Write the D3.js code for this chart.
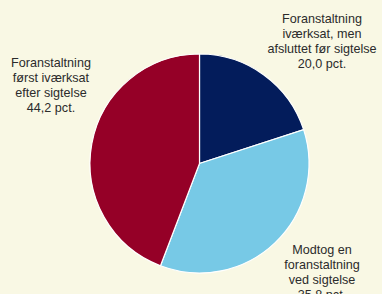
<!DOCTYPE html>
<html>
<head>
<meta charset="utf-8">
<script src="https://cdn.jsdelivr.net/npm/d3@7"></script>
<style>
  html, body { margin: 0; padding: 0; background: #f9f8e4; }
  svg { display: block; }
  .lbl { font-family: "Liberation Sans", Arial, sans-serif; font-size: 12.6px; fill: #2b2b2b; }
</style>
</head>
<body>
<svg id="chart" width="382" height="294"></svg>
<script>
var categories = [
    ['Foranstaltning', 'iværksat, men', 'afsluttet før sigtelse'],
    ['Modtog en', 'foranstaltning', 'ved sigtelse'],
    ['Foranstaltning', 'først iværksat', 'efter sigtelse']
];
var values = [20.0, 35.8, 44.2];
var colors = ['#031c5b', '#77c9e6', '#950027'];
var labelPos = [[322, 23], [322, 254], [51, 67]];

var W = 382, H = 294;
var cx = 199.5, cy = 163.5, radius = 109.5;

var svg = d3.select('#chart');
svg.append('rect').attr('width', W).attr('height', H).attr('fill', '#f9f8e4');

var pie = d3.pie().sort(null).value(function(d) { return d; });
var arc = d3.arc().innerRadius(0).outerRadius(radius);

var g = svg.append('g').attr('transform', 'translate(' + cx + ',' + cy + ')');
g.selectAll('path.slice')
    .data(pie(values))
    .enter()
    .append('path')
    .attr('class', 'slice')
    .attr('d', arc)
    .attr('fill', function(d, i) { return colors[i]; })
    .attr('stroke', '#ffffff')
    .attr('stroke-width', 1.2);

var fmt = function(v) { return v.toFixed(1).replace('.', ',') + ' pct.'; };

var labels = svg.selectAll('text.lbl')
    .data(categories)
    .enter()
    .append('text')
    .attr('class', 'lbl')
    .attr('text-anchor', 'middle')
    .attr('x', function(d, i) { return labelPos[i][0]; })
    .attr('y', function(d, i) { return labelPos[i][1]; });

labels.each(function(d, i) {
    var t = d3.select(this);
    var lines = d.concat([fmt(values[i])]);
    lines.forEach(function(line, k) {
        t.append('tspan')
            .attr('x', labelPos[i][0])
            .attr('dy', k === 0 ? 0 : 15)
            .text(line);
    });
});
</script>
</body>
</html>
